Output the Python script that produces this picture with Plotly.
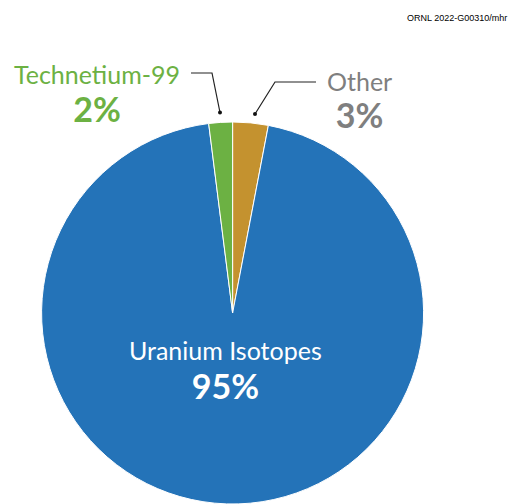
import plotly.graph_objects as go

W, H = 514, 504

labels = ["Other", "Uranium Isotopes", "Technetium-99"]
values = [3, 95, 2]
slice_colors = ["#c4922f", "#2473b8", "#6cb143"]
label_colors = ["#7f7f7f", "#ffffff", "#6cb143"]
credit = "ORNL 2022-G00310/mhr"

def px(x, y):
    return x / W, 1 - y / H

fig = go.Figure(go.Pie(
    labels=labels, values=values, sort=False, direction="clockwise", rotation=0,
    marker=dict(colors=slice_colors, line=dict(color="white", width=1)),
    textinfo="none", hoverinfo="label+percent", showlegend=False,
    domain=dict(x=[39.6 / W, 425.6 / W], y=[0, 382 / H]),
))

font_family = "Lato, Open Sans, sans-serif"
# label block centres (pixels) and base font size controlling line spacing
label_pos = {
    "Other": (359, 101, 28.5),
    "Uranium Isotopes": (225, 370, 30),
    "Technetium-99": (97, 94, 29),
}
annotations = []
for lab, val, col in zip(labels, values, label_colors):
    cx, cy, base = label_pos[lab]
    x, y = px(cx, cy)
    txt = (f"<span style='font-size:25px'>{lab}</span><br>"
           f"<b><span style='font-size:34px'>{val}%</span></b>")
    annotations.append(dict(x=x, y=y, xref="paper", yref="paper", text=txt,
                            showarrow=False, xanchor="center", yanchor="middle",
                            align="center",
                            font=dict(family=font_family, size=base, color=col)))

x, y = px(509, 18)
annotations.append(dict(x=x, y=y, xref="paper", yref="paper", text=credit, showarrow=False,
                        xanchor="right", yanchor="middle",
                        font=dict(family="Liberation Sans, Arial", size=9, color="#000000")))

shapes = []
def line_path(pts):
    p = "M " + " L ".join(f"{px(a, b)[0]:.5f},{px(a, b)[1]:.5f}" for a, b in pts)
    return dict(type="path", path=p, xref="paper", yref="paper",
                line=dict(color="#222222", width=1.2))

shapes.append(line_path([(191, 73), (212, 73), (220, 112.5)]))
shapes.append(line_path([(316, 82), (275, 82), (255, 114)]))
for cx, cy in [(220, 112.5), (255, 114)]:
    x0, y0 = px(cx - 2, cy - 2)
    x1, y1 = px(cx + 2, cy + 2)
    shapes.append(dict(type="circle", xref="paper", yref="paper", x0=x0, y0=y1, x1=x1, y1=y0,
                       fillcolor="#111111", line=dict(width=0)))

fig.update_layout(width=W, height=H, margin=dict(l=0, r=0, t=0, b=0),
                  paper_bgcolor="white", plot_bgcolor="white",
                  annotations=annotations, shapes=shapes)

fig.write_html("out.html", config={"displayModeBar": False},
               post_script="document.body.style.margin='0';document.body.style.overflow='hidden';")
